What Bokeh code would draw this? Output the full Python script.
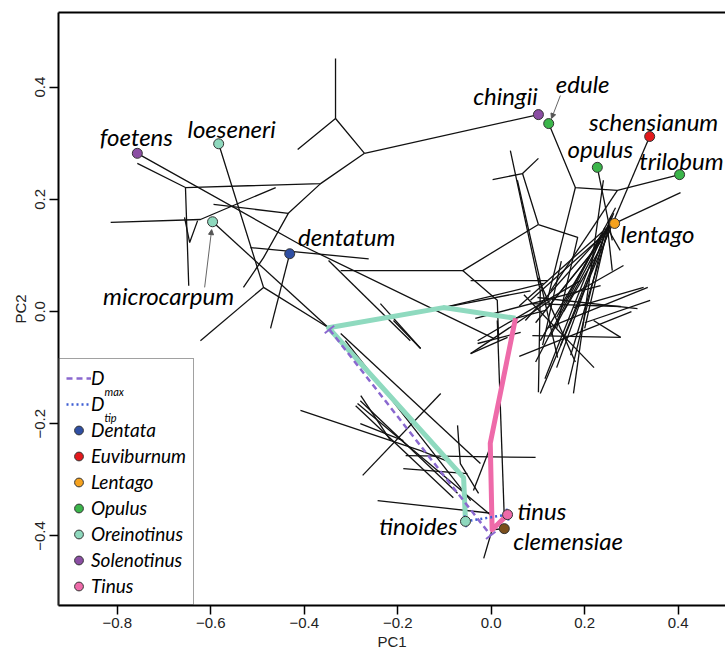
import numpy as np
from bokeh.plotting import figure
from bokeh.models import (Range1d, LinearAxis, FixedTicker, Legend, LegendItem, Title,
                          Arrow, NormalHead, ColumnDataSource)
from bokeh.core.properties import value
from bokeh.embed import file_html
from bokeh.resources import INLINE

# ---------------- data ----------------
tip_names = ["foetens", "loeseneri", "microcarpum", "dentatum", "chingii", "edule",
             "schensianum", "opulus", "trilobum", "lentago", "tinus", "clemensiae", "tinoides"]
tip_x = [-0.757, -0.583, -0.596, -0.431, 0.101, 0.123, 0.339, 0.227, 0.403, 0.264, 0.035, 0.028, -0.055]
tip_y = [0.282, 0.299, 0.160, 0.103, 0.351, 0.335, 0.312, 0.257, 0.244, 0.157, -0.362, -0.387, -0.374]
tip_clade = ["Solenotinus", "Oreinotinus", "Oreinotinus", "Dentata", "Solenotinus", "Opulus",
             "Euviburnum", "Opulus", "Opulus", "Lentago", "Tinus", "Clemensiae", "Oreinotinus"]

clades = ["Dentata", "Euviburnum", "Lentago", "Opulus", "Oreinotinus", "Solenotinus", "Tinus"]
clade_colors = ["#2f4fa3", "#e3191c", "#f6a21e", "#3bb54a", "#8ed8bd", "#8b4ea3", "#ee6aa9"]
other_clade = "Clemensiae"
other_color = "#7a4e1c"

# tree branches (phylomorphospace), PC1 / PC2 values of connected nodes
branch_xs = [
    [-0.757, -0.408, 0.005], [-0.333, -0.333], [-0.414, -0.333, -0.271], [-0.271, 0.101],
    [-0.271, -0.365, -0.654], [-0.757, -0.654, -0.647], [-0.656, -0.645, -0.628],
    [-0.814, -0.622, -0.461], [-0.365, -0.434, -0.487, -0.530], [-0.434, -0.594],
    [-0.583, -0.487, -0.348], [-0.487, -0.622], [-0.596, -0.348], [-0.431, -0.472],
    [-0.515, -0.262], [-0.348, -0.173], [-0.322, -0.061, 0.101], [-0.061, 0.013, 0.016],
    [0.101, 0.067, 0.003], [0.067, 0.101], [0.101, 0.185, 0.140], [0.041, 0.105, 0.101],
    [-0.102, 0.112], [-0.102, 0.084], [0.123, 0.180, 0.270, 0.403], [0.180, 0.120],
    [0.270, 0.127], [0.227, 0.259], [0.339, 0.105], [0.264, 0.405], [0.264, 0.249],
    [0.255, 0.105], [0.240, 0.127], [0.252, 0.073], [0.262, 0.148], [0.235, 0.116],
    [0.258, 0.170], [0.245, 0.084], [0.249, 0.259], [0.249, 0.276], [0.228, 0.095],
    [0.266, 0.140], [0.238, 0.060], [0.250, 0.200], [0.232, 0.155],
    [0.243, 0.115], [0.257, 0.140], [0.245, 0.165], [0.230, 0.095],
    [0.060, 0.300], [0.070, 0.220], [0.100, 0.180], [0.150, 0.110],
    [0.056, 0.142], [0.099, 0.313], [-0.029, 0.191], [-0.044, 0.127], [0.335, 0.121],
    [-0.044, 0.121],
    [0.326, 0.176], [0.088, 0.277], [0.219, 0.277], [0.240, 0.176], [-0.044, 0.035],
    [-0.034, 0.234], [0.084, 0.277], [0.283, 0.163], [0.340, 0.200], [0.052, 0.116],
    [-0.322, -0.023], [-0.286, 0.005], [-0.279, -0.215], [-0.408, -0.151, -0.087],
    [-0.275, -0.108], [-0.290, -0.081], [-0.183, 0.095], [-0.188, -0.051], [-0.243, 0.005],
    [-0.072, -0.066, -0.027], [-0.209, -0.151], [-0.280, -0.072], [-0.280, -0.188],
    [-0.312, -0.044], [0.013, 0.028], [-0.002, -0.038], [0.002, -0.016], [0.002, 0.028],
    [-0.029, 0.063], [-0.237, -0.151],
]
branch_ys = [
    [0.282, 0.119, -0.048], [0.451, 0.344], [0.289, 0.344, 0.282], [0.282, 0.351],
    [0.282, 0.228, 0.221], [0.264, 0.221, 0.046], [0.168, 0.123, 0.162],
    [0.159, 0.164, 0.221], [0.228, 0.175, 0.096, 0.043], [0.175, 0.191],
    [0.299, 0.043, -0.029], [0.043, -0.052], [0.160, -0.029], [0.103, -0.030],
    [0.114, 0.094], [0.091, -0.052], [0.073, 0.073, 0.155], [0.073, 0.020, -0.052],
    [0.155, 0.246, 0.235], [0.246, 0.273], [0.155, 0.132, -0.030], [0.287, 0.037, -0.144],
    [0.007, 0.050], [0.007, 0.037], [0.335, 0.221, 0.216, 0.244], [0.221, 0.020],
    [0.216, 0.037], [0.257, 0.127], [0.312, -0.146], [0.157, 0.212], [0.157, 0.148],
    [0.160, -0.052], [0.135, -0.043], [0.150, -0.016], [0.175, -0.061], [0.125, 0.002],
    [0.165, -0.078], [0.140, 0.020], [0.148, 0.073], [0.148, 0.109], [0.118, -0.020],
    [0.185, -0.010], [0.142, 0.010], [0.152, -0.030], [0.110, 0.000],
    [0.150, -0.120], [0.170, -0.100], [0.148, -0.130], [0.128, -0.090],
    [-0.080, 0.000], [0.030, -0.100], [0.060, -0.090], [0.090, -0.060],
    [0.234, -0.082], [0.025, 0.005], [-0.052, 0.055], [-0.075, 0.020], [0.043, -0.029],
    [0.055, 0.055],
    [0.043, 0.007], [-0.043, -0.046], [-0.016, -0.046], [0.234, -0.146], [-0.075, -0.046],
    [-0.012, 0.046], [0.014, 0.009], [0.082, 0.025], [0.020, -0.020], [-0.012, 0.002],
    [-0.039, -0.271], [-0.164, -0.367], [-0.150, -0.230], [-0.176, -0.248, -0.269],
    [-0.292, -0.146], [-0.168, -0.332], [-0.257, -0.260], [-0.280, -0.289], [-0.337, -0.360],
    [-0.203, -0.271, -0.324], [-0.016, -0.066], [-0.159, -0.324], [-0.200, -0.230],
    [-0.052, -0.337], [-0.016, -0.367], [-0.242, -0.319], [-0.389, -0.440], [-0.389, -0.387],
    [-0.057, -0.037], [0.014, -0.066],
]

# highlighted paths from tips to their common ancestor
oreino_path_x = [-0.055, -0.059, -0.348, -0.102, 0.052]
oreino_path_y = [-0.374, -0.296, -0.029, 0.007, -0.012]
tinus_path_x = [0.035, 0.002, -0.002, 0.052]
tinus_path_y = [-0.362, -0.389, -0.235, -0.012]

# distances
dmax_x = [-0.346, -0.001]
dmax_y = [-0.032, -0.399]
dtip_x = [-0.055, 0.035]
dtip_y = [-0.374, -0.362]

x_ticks = [-0.8, -0.6, -0.4, -0.2, 0.0, 0.2, 0.4]
y_ticks = [-0.4, -0.2, 0.0, 0.2, 0.4]

# ---------------- styling / layout ----------------
X0, X1 = -0.9256, 0.5012
Y0, Y1 = -0.524, 0.533
W, H = 725, 650
ML, MR, MT, MB = 58, 0, 12, 45
FW, FH = W - ML - MR, H - MT - MB
ux, uy = (X1 - X0) / FW, (Y1 - Y0) / FH   # data units per pixel

def px_to_data(px, py):
    """page-pixel layout position -> data coordinates (for legend extras)"""
    return X0 + (px - ML) * ux, Y0 + (H - MB - py) * uy

AX_FONT = "Liberation Sans"
LBL_FONT = "Lato"

p = figure(width=W, height=H, x_range=Range1d(X0, X1), y_range=Range1d(Y0, Y1),
           output_backend="svg", toolbar_location=None,
           min_border_left=ML, min_border_right=MR, min_border_top=MT, min_border_bottom=MB)
p.outline_line_color = None
p.grid.visible = False
p.background_fill_color = "white"

def style_axis(ax, ticks):
    ax.ticker = FixedTicker(ticks=ticks)
    ax.major_label_overrides = {t: f"{t:.1f}".replace("-", "\u2212") for t in ticks}
    ax.minor_tick_line_color = None
    ax.major_tick_in = 0
    ax.major_tick_out = 9
    ax.major_tick_line_width = 1.5
    ax.major_tick_line_color = "black"
    ax.axis_line_width = 2
    ax.axis_line_color = "black"
    ax.major_label_text_font = AX_FONT
    ax.major_label_text_font_size = "15px"
    ax.major_label_text_color = "#222222"
    ax.major_label_standoff = 3

style_axis(p.xaxis[0], x_ticks)
style_axis(p.yaxis[0], y_ticks)
p.yaxis.major_label_standoff = 4
p.yaxis.major_label_orientation = "vertical"
p.yaxis.axis_label = "PC2"
p.yaxis.axis_label_text_font = AX_FONT
p.yaxis.axis_label_text_font_size = "15px"
p.yaxis.axis_label_text_font_style = "normal"
p.yaxis.axis_label_text_color = "#222222"
p.yaxis.axis_label_standoff = 4

top = LinearAxis(ticker=FixedTicker(ticks=[]), major_tick_out=0, major_tick_in=0,
                 minor_tick_out=0, minor_tick_in=0, major_label_standoff=0,
                 major_label_text_font_size="0px", axis_line_width=2, axis_line_color="black")
p.add_layout(top, "above")

# x axis title, placed like the original (slightly right of the visible centre)
p.add_layout(Title(text="PC1", align="center", offset=18, standoff=0,
                   text_font=AX_FONT, text_font_size="15px", text_font_style="normal",
                   text_color="#222222"), "below")

# tree
p.multi_line(branch_xs, branch_ys, line_color="#111111", line_width=1.3)

# highlighted paths
p.line(oreino_path_x, oreino_path_y, line_color="#8fdabf", line_width=5, line_join="round")
p.line(tinus_path_x, tinus_path_y, line_color="#ee6aa9", line_width=5, line_join="round")

# Dmax / Dtip with end caps
dmax_col, dtip_col = "#8a68cf", "#3f5fd3"
r_dmax = p.line(dmax_x, dmax_y, line_color=dmax_col, line_width=2.5, line_dash="6 4")
r_dtip = p.line(dtip_x, dtip_y, line_color=dtip_col, line_width=2.5, line_dash="2 3")

def caps(xs, ys, half=6):
    dx, dy = (xs[1] - xs[0]) / ux, (ys[1] - ys[0]) / uy
    L = np.hypot(dx, dy)
    nx, ny = -dy / L * half, dx / L * half
    cx0, cy0, cx1, cy1 = [], [], [], []
    for x, y in zip(xs, ys):
        cx0.append(x - nx * ux); cy0.append(y - ny * uy)
        cx1.append(x + nx * ux); cy1.append(y + ny * uy)
    return cx0, cy0, cx1, cy1

c = caps(dmax_x, dmax_y)
p.segment(c[0], c[1], c[2], c[3], line_color=dmax_col, line_width=2)
c = caps(dtip_x, dtip_y)
p.segment(c[0], c[1], c[2], c[3], line_color=dtip_col, line_width=2)

# tip points
items = [LegendItem(label="D", renderers=[r_dmax]), LegendItem(label="D", renderers=[r_dtip])]
for cl, col in zip(clades, clade_colors):
    xs = [x for x, k in zip(tip_x, tip_clade) if k == cl]
    ys = [y for y, k in zip(tip_y, tip_clade) if k == cl]
    r = p.scatter(xs, ys, size=10, fill_color=col, line_color="#333333", line_width=1)
    items.append(LegendItem(label=cl, renderers=[r]))
xs = [x for x, k in zip(tip_x, tip_clade) if k == other_clade]
ys = [y for y, k in zip(tip_y, tip_clade) if k == other_clade]
p.scatter(xs, ys, size=10, fill_color=other_color, line_color="#333333", line_width=1)

# arrows pointing at crowded tips
arrow_from_x = [-0.613, 0.148]
arrow_from_y = [0.043, 0.385]
arrow_to_x = [-0.598, 0.129]
arrow_to_y = [0.146, 0.344]
for a, b, cc, d in zip(arrow_from_x, arrow_from_y, arrow_to_x, arrow_to_y):
    p.add_layout(Arrow(end=NormalHead(size=5, fill_color="#555555", line_color="#555555"),
                       x_start=a, y_start=b, x_end=cc, y_end=d,
                       line_color="#666666", line_width=1))

# tip labels (offsets in pixels)
lab_dx = [-1, 13, -44, 57, -33, 34, 4, 3, 44, 6, 10, 9, -8]
lab_dy = [-17, -15, 74, -17, -19, -40, -15, -19, -14, 10, -4, 12, 4]
lab_align = ["center", "center", "center", "center", "center", "center", "center", "center",
             "right", "left", "left", "left", "right"]
src = ColumnDataSource(dict(x=tip_x, y=tip_y, t=tip_names, dx=lab_dx, dy=lab_dy, al=lab_align))
for al in ["center", "left", "right"]:
    idx = [i for i, a in enumerate(lab_align) if a == al]
    s = ColumnDataSource({k: [v[i] for i in idx] for k, v in src.data.items()})
    p.text(x="x", y="y", text="t", x_offset="dx", y_offset="dy", source=s,
           text_align=al, text_baseline="alphabetic", text_font=value(LBL_FONT),
           text_font_style="italic", text_font_size="24px", text_color="black")

# subscripts of the two D entries of the legend
sub_text = ["max", "tip"]
sub_px = [(104, 391), (104, 417)]
sx, sy = zip(*[px_to_data(a, b) for a, b in sub_px])
p.text(x=list(sx), y=list(sy), text=sub_text, text_font=value(LBL_FONT),
       text_font_style="italic", text_font_size="11px", text_color="black",
       text_baseline="middle", text_align="left")

legend = Legend(items=items, location="bottom_left", margin=0, padding=7, spacing=3,
                glyph_width=25, glyph_height=22, label_height=22, label_standoff=0,
                label_text_font=LBL_FONT, label_text_font_style="italic",
                label_text_font_size="19px", label_text_color="black",
                border_line_color="#444444", border_line_width=1,
                background_fill_alpha=0)
p.add_layout(legend)

open("out.html", "w").write(file_html(p, INLINE))
